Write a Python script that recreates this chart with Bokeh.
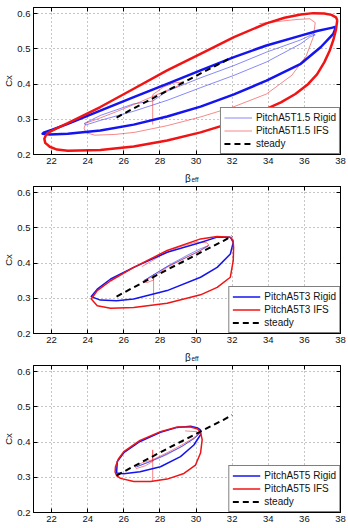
from bokeh.plotting import figure
from bokeh.layouts import column
from bokeh.models import FixedTicker, LinearAxis, Legend, LegendItem, Range1d
from bokeh.core.properties import value
from bokeh.embed import file_html
from bokeh.resources import INLINE

# ---- axis ticks -------------------------------------------------------------
BETA_TICKS = [22, 24, 26, 28, 30, 32, 34, 36, 38]
CX_TICKS = [0.2, 0.3, 0.4, 0.5, 0.6]

# ---- steady-state polar (same in every panel) --------------------------------
steady_beta = [25.6, 26.5, 27.5, 28.5, 29.5, 30.5, 31.5, 32.0]
steady_cx = [0.305, 0.330, 0.357, 0.384, 0.410, 0.437, 0.463, 0.477]

# ---- PitchA5T1.5 -------------------------------------------------------------
t15_rigid_beta = [37.75, 37.6, 36.9, 35.8, 33.9, 32.1, 30.25, 28.4, 26.55, 24.7, 22.9, 21.9,
                  21.5, 21.6, 22.0, 22.9, 24.7, 26.55, 28.4, 30.25, 32.1, 33.9, 35.8, 36.7,
                  37.5, 37.75]
t15_rigid_cx = [0.563, 0.543, 0.505, 0.458, 0.410, 0.371, 0.336, 0.308, 0.285, 0.268, 0.259,
                0.257, 0.259, 0.263, 0.270, 0.287, 0.325, 0.363, 0.401, 0.439, 0.477, 0.510,
                0.538, 0.551, 0.560, 0.563]
t15_ifs_beta = [37.82, 37.75, 37.6, 37.4, 37.1, 36.7, 36.2, 35.5, 34.7, 33.9, 32.1, 30.25,
                28.4, 26.55, 24.7, 22.9, 22.3, 21.9, 21.65, 21.6, 21.7, 21.95, 22.4, 22.9,
                24.7, 26.55, 28.4, 30.25, 32.1, 33.9, 34.9, 35.8, 36.5, 37.1, 37.5, 37.75,
                37.82]
t15_ifs_cx = [0.582, 0.555, 0.525, 0.495, 0.462, 0.428, 0.400, 0.372, 0.348, 0.330, 0.292,
              0.263, 0.240, 0.223, 0.213, 0.211, 0.214, 0.222, 0.233, 0.245, 0.256, 0.266,
              0.277, 0.289, 0.335, 0.387, 0.439, 0.486, 0.534, 0.573, 0.589, 0.598, 0.602,
              0.601, 0.597, 0.590, 0.582]
t15_rigid_start_beta = [27.6, 28.4, 30.25, 32.1, 33.9, 35.8, 36.5, 36.6, 36.3, 35.8, 33.9,
                        32.1, 30.25, 28.4, 26.55, 24.7, 23.9, 23.8, 24.7, 26.55, 27.6]
t15_rigid_start_cx = [0.352, 0.380, 0.418, 0.453, 0.491, 0.526, 0.543, 0.540, 0.534, 0.515,
                      0.463, 0.425, 0.390, 0.354, 0.323, 0.297, 0.284, 0.288, 0.311, 0.344,
                      0.352]
t15_ifs_start_beta = [27.6, 27.6, 28.2, 28.8, 29.3, 29.1, 28.5, 27.6, 26.7, 25.6, 24.6, 23.9,
                      23.8, 23.9, 24.4, 25.5, 26.6, 28.4, 30.2, 32.1, 33.9, 35.3, 36.1, 36.5,
                      36.6, 36.3, 35.6, 34.5, 33.5]
t15_ifs_start_cx = [0.285, 0.370, 0.392, 0.404, 0.406, 0.397, 0.385, 0.365, 0.345, 0.322,
                    0.302, 0.289, 0.275, 0.262, 0.255, 0.257, 0.263, 0.282, 0.306, 0.336,
                    0.372, 0.425, 0.480, 0.535, 0.575, 0.586, 0.584, 0.578, 0.572]

# ---- PitchA5T3 ---------------------------------------------------------------
t3_rigid_beta = [31.9, 32.06, 31.9, 31.17, 30.25, 28.4, 26.55, 25.6, 24.7, 24.2, 24.53, 25.27,
                 26.55, 28.4, 30.25, 31.17, 31.9]
t3_rigid_cx = [0.474, 0.459, 0.426, 0.388, 0.360, 0.322, 0.298, 0.293, 0.295, 0.305, 0.326,
               0.355, 0.388, 0.431, 0.459, 0.474, 0.474]
t3_ifs_beta = [31.9, 32.05, 32.08, 32.06, 31.9, 31.17, 30.25, 28.4, 26.55, 25.27, 24.53, 24.2,
               24.53, 25.27, 26.55, 28.4, 30.25, 31.17, 31.9]
t3_ifs_cx = [0.474, 0.465, 0.445, 0.407, 0.360, 0.331, 0.310, 0.286, 0.274, 0.272, 0.279,
             0.298, 0.322, 0.350, 0.388, 0.436, 0.469, 0.476, 0.474]
t3_rigid_start_beta = [27.1, 27.8, 28.6, 29.5, 30.2, 30.7, 30.6, 30.0, 29.2, 28.4, 27.6, 27.1]
t3_rigid_start_cx = [0.350, 0.372, 0.397, 0.422, 0.440, 0.450, 0.446, 0.430, 0.410, 0.390,
                     0.365, 0.350]
t3_ifs_start_beta = [27.65, 27.65, 27.65, 27.3, 27.05, 27.4, 27.65, 28.4, 29.3, 30.25, 30.7,
                     30.6, 30.0, 29.0, 28.0, 27.0]
t3_ifs_start_cx = [0.288, 0.368, 0.352, 0.345, 0.347, 0.357, 0.362, 0.388, 0.412, 0.436,
                   0.452, 0.458, 0.460, 0.445, 0.420, 0.390]

# ---- PitchA5T5 ---------------------------------------------------------------
t5_rigid_beta = [30.25, 30.25, 29.88, 29.14, 28.03, 26.9, 26.0, 25.6, 25.64, 26.0, 26.9, 28.03,
                 28.96, 29.7, 30.1, 30.25]
t5_rigid_cx = [0.435, 0.421, 0.392, 0.359, 0.330, 0.316, 0.310, 0.312, 0.345, 0.370, 0.402,
               0.428, 0.442, 0.445, 0.440, 0.435]
t5_ifs_beta = [30.25, 30.34, 30.25, 29.97, 29.33, 28.4, 27.48, 26.55, 25.82, 25.6, 25.52,
               25.54, 25.7, 26.0, 26.9, 28.03, 28.96, 29.7, 30.1, 30.25]
t5_ifs_cx = [0.428, 0.407, 0.369, 0.335, 0.311, 0.295, 0.288, 0.288, 0.297, 0.305, 0.315,
             0.330, 0.352, 0.373, 0.405, 0.430, 0.443, 0.443, 0.437, 0.428]
t5_rigid_start_beta = [26.7, 27.5, 28.4, 29.3, 30.0, 30.25, 29.9, 29.1, 28.2, 27.3, 26.7]
t5_rigid_start_cx = [0.330, 0.345, 0.365, 0.390, 0.415, 0.428, 0.410, 0.385, 0.362, 0.342,
                     0.330]
t5_ifs_start_beta = [27.6, 27.6, 27.6, 27.2, 26.7, 26.6, 27.1, 27.6, 28.4, 29.2, 29.8, 30.2,
                     30.0, 29.4]
t5_ifs_start_cx = [0.288, 0.378, 0.345, 0.333, 0.325, 0.332, 0.343, 0.350, 0.370, 0.392,
                   0.410, 0.425, 0.430, 0.432]

RED = "#f01414"
BLUE = "#1414f0"
INK = "#111111"
FONT = "Liberation Sans"
BETA_RANGE = (21, 38)
CX_RANGE = (0.2, 0.618)


def make_panel(case, rigid, ifs, rigid_start, ifs_start, height, border_top, border_bottom,
               loop_width, legend_on_thin):
    p = figure(width=348, height=height, output_backend="svg", toolbar_location=None,
               x_range=Range1d(*BETA_RANGE), y_range=Range1d(*CX_RANGE),
               min_border_left=32, min_border_right=8, min_border_top=border_top,
               min_border_bottom=border_bottom,
               background_fill_color="white", border_fill_color="white",
               outline_line_color="black", outline_line_width=1)

    for ax in (p.xaxis[0], p.yaxis[0]):
        ax.major_tick_in = 4
        ax.major_tick_out = 0
        ax.minor_tick_line_color = None
        ax.axis_line_color = "black"
        ax.major_tick_line_color = "black"
        ax.major_label_text_font = FONT
        ax.major_label_text_font_size = "9.5px"
        ax.major_label_text_color = INK
        ax.major_label_standoff = 3
    p.xaxis.ticker = FixedTicker(ticks=BETA_TICKS)
    p.yaxis.ticker = FixedTicker(ticks=CX_TICKS)
    p.yaxis.axis_label = "Cx"
    p.yaxis.axis_label_text_font = FONT
    p.yaxis.axis_label_text_font_size = "9.5px"
    p.yaxis.axis_label_text_font_style = "normal"
    p.yaxis.axis_label_text_color = INK
    p.yaxis.axis_label_standoff = 0

    # inward ticks on the top and right edges of the box (no labels there)
    for side, ticks in (("above", BETA_TICKS), ("right", CX_TICKS)):
        extra = LinearAxis(ticker=FixedTicker(ticks=ticks), major_tick_in=4, major_tick_out=0,
                           minor_tick_line_color=None, major_label_text_color=None,
                           major_label_text_font_size="1px", major_label_standoff=0,
                           axis_line_color="black")
        p.add_layout(extra, side)

    p.xgrid.ticker = FixedTicker(ticks=BETA_TICKS)
    p.ygrid.ticker = FixedTicker(ticks=CX_TICKS)
    for g in (p.xgrid[0], p.ygrid[0]):
        g.grid_line_color = "#8c8c8c"
        g.grid_line_dash = "1 3"
        g.grid_line_width = 1

    thin_b = p.line(rigid_start[0], rigid_start[1], color=BLUE, line_width=1, line_alpha=0.5)
    thin_r = p.line(ifs_start[0], ifs_start[1], color=RED, line_width=1, line_alpha=0.5)
    loop_b = p.line(rigid[0], rigid[1], color=BLUE, line_width=loop_width, line_join="round")
    loop_r = p.line(ifs[0], ifs[1], color=RED, line_width=loop_width, line_join="round")
    st = p.line(steady_beta, steady_cx, color="black", line_width=2, line_dash="6 4")

    leg_b, leg_r = (thin_b, thin_r) if legend_on_thin else (loop_b, loop_r)
    legend = Legend(items=[LegendItem(label=f"Pitch{case} Rigid", renderers=[leg_b]),
                           LegendItem(label=f"Pitch{case} IFS", renderers=[leg_r]),
                           LegendItem(label="steady", renderers=[st])],
                    location="bottom_right", margin=0, padding=3, spacing=0,
                    label_height=13, glyph_height=13, glyph_width=28, label_standoff=4,
                    label_text_font=FONT, label_text_font_size="10px",
                    label_text_color=INK,
                    border_line_color="black", border_line_width=1,
                    background_fill_color="white", background_fill_alpha=1)
    p.add_layout(legend)
    return p


def make_beta_title():
    # strip under a panel carrying the x-axis title "β_eff"
    f = figure(width=348, height=15, output_backend="svg", toolbar_location=None,
               x_range=Range1d(*BETA_RANGE), y_range=Range1d(0, 15),
               x_axis_type=None, y_axis_type=None,
               min_border_left=32, min_border_right=8, min_border_top=0, min_border_bottom=0,
               outline_line_color=None, background_fill_color="white",
               border_fill_color="white")
    f.text(x=[29.55], y=[5.2], text=["β"], text_align="center", text_baseline="alphabetic",
           text_font=value(FONT), text_font_size="10px", text_color=INK)
    f.text(x=[29.55], y=[3.6], x_offset=3.5, text=["eff"], text_align="left",
           text_baseline="alphabetic", text_font=value(FONT), text_font_size="6.5px",
           text_color=INK)
    return f


p1 = make_panel("A5T1.5", (t15_rigid_beta, t15_rigid_cx), (t15_ifs_beta, t15_ifs_cx),
                (t15_rigid_start_beta, t15_rigid_start_cx),
                (t15_ifs_start_beta, t15_ifs_start_cx), 168, 7, 14, 2.5, True)
p2 = make_panel("A5T3", (t3_rigid_beta, t3_rigid_cx), (t3_ifs_beta, t3_ifs_cx),
                (t3_rigid_start_beta, t3_rigid_start_cx),
                (t3_ifs_start_beta, t3_ifs_start_cx), 164, 3, 14, 1.5, False)
p3 = make_panel("A5T5", (t5_rigid_beta, t5_rigid_cx), (t5_ifs_beta, t5_ifs_cx),
                (t5_rigid_start_beta, t5_rigid_start_cx),
                (t5_ifs_start_beta, t5_ifs_start_cx), 166, 3, 16, 1.5, False)

layout = column(p1, make_beta_title(), p2, make_beta_title(), p3, spacing=0)
open("out.html", "w").write(file_html(layout, INLINE))
